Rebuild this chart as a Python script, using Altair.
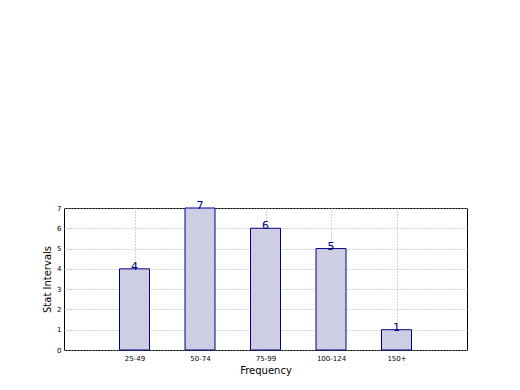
import altair as alt
import pandas as pd

categories = ["25-49", "50-74", "75-99", "100-124", "150+"]
positions = [1, 2, 3, 4, 5]
values = [4, 7, 6, 5, 1]

df = pd.DataFrame({"pos": positions, "cat": categories, "val": values})

label_expr = "{" + ",".join(f"'{p}':'{c}'" for p, c in zip(positions, categories)) + "}[datum.value]"

x = alt.X("pos:Q", scale=alt.Scale(domain=[0, 6], nice=False, zero=False),
          axis=alt.Axis(values=positions, labelExpr=label_expr, title="Frequency",
                        grid=True, gridDash=[1, 2], gridColor="#a8a8a8", ticks=False,
                        labelFontSize=7, titleFontSize=10, titleFontWeight="normal",
                        labelPadding=4, titlePadding=4, domain=False, labelColor="#000",
                        labelOverlap=False,
                        titleColor="#000", labelFont="DejaVu Sans", titleFont="DejaVu Sans"))
y = alt.Y("val:Q", scale=alt.Scale(domain=[0, 7], nice=False),
          axis=alt.Axis(values=[0, 1, 2, 3, 4, 5, 6, 7], title="Stat Intervals",
                        grid=True, gridDash=[1, 2], gridColor="#a8a8a8", ticks=False,
                        labelFontSize=7, titleFontSize=10, titleFontWeight="normal",
                        labelPadding=3, titlePadding=4, domain=False, labelColor="#000",
                        labelOverlap=False,
                        titleColor="#000", labelFont="DejaVu Sans", titleFont="DejaVu Sans"))

base = alt.Chart(df).encode(x=x, y=y)
bars = base.mark_bar(size=30, color="#cdcde3", stroke="#000080", strokeWidth=1)
texts = base.mark_text(color="#000080", fontSize=11, baseline="bottom", dy=3,
                       font="DejaVu Sans").encode(text="val:Q")

chart = (bars + texts).properties(
    width=403, height=142,
    background="white",
    padding={"left": 34, "top": 192, "right": 10, "bottom": 5},
).configure_view(stroke="#000000", strokeWidth=1)

chart.save("out.html", embed_options={"renderer": "svg", "actions": False})
